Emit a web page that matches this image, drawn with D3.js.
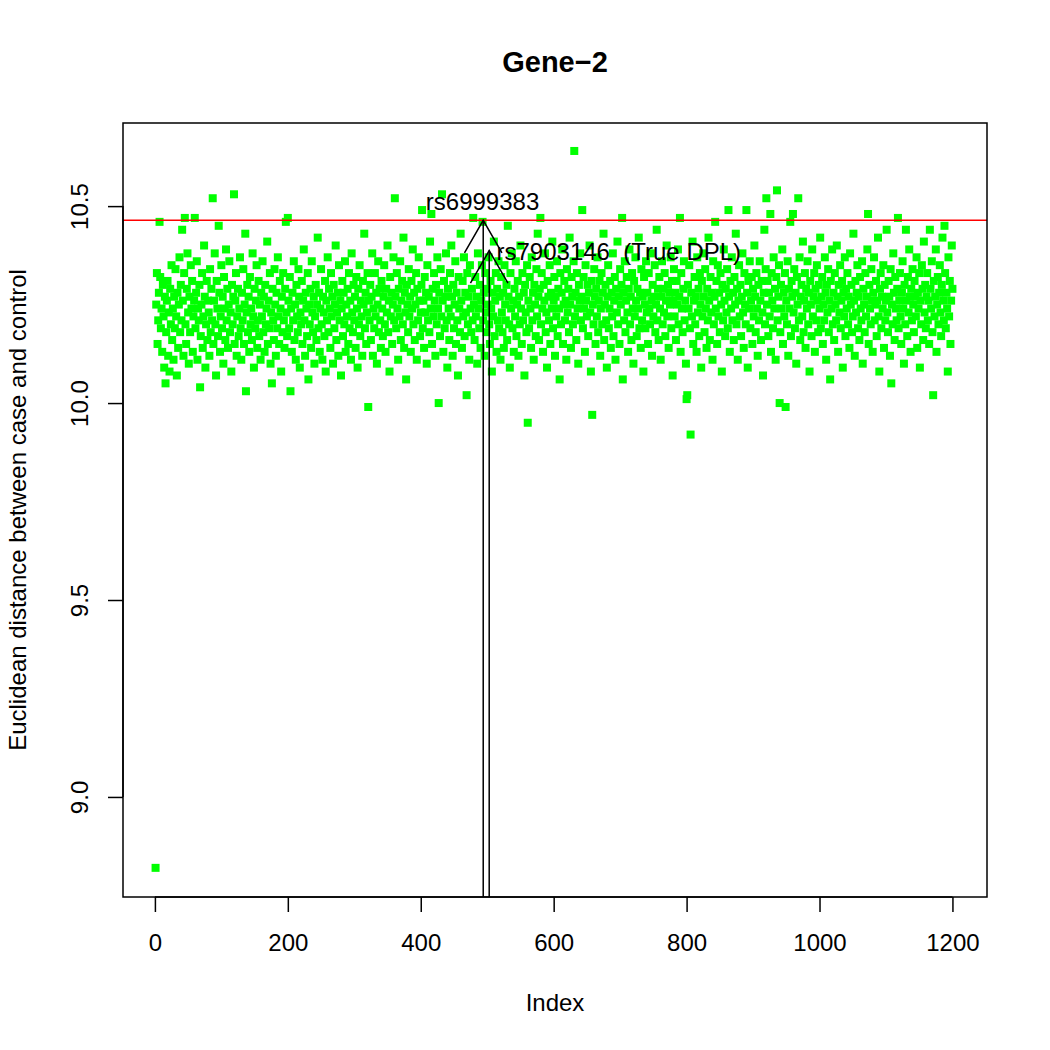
<!DOCTYPE html>
<html>
<head>
<meta charset="utf-8">
<script src="https://cdn.jsdelivr.net/npm/d3@7"></script>
<style>
  body { margin: 0; background: #fff; }
  svg { font-family: 'Liberation Sans', Arial, Helvetica, sans-serif; }
</style>
</head>
<body>
<div id="chart"></div>
<script>
// Euclidean distance per SNP index (1..1200)
const distance = [
  8.82, 10.25, 10.33, 10.15, 10.21, 10.28, 10.46, 10.32, 10.19, 10.24, 10.13, 10.30, 10.22, 10.09, 10.27, 10.05, 10.18, 10.26, 10.31, 10.12,
  10.23, 10.08, 10.29, 10.20, 10.35, 10.16, 10.24, 10.11, 10.27, 10.19, 10.34, 10.22, 10.07, 10.28, 10.14, 10.25, 10.37, 10.18, 10.30, 10.21,
  10.44, 10.26, 10.12, 10.33, 10.47, 10.20, 10.15, 10.29, 10.38, 10.23, 10.10, 10.27, 10.18, 10.35, 10.24, 10.31, 10.13, 10.22, 10.26, 10.47,
  10.19, 10.28, 10.36, 10.11, 10.24, 10.21, 10.30, 10.04, 10.17, 10.25, 10.33, 10.14, 10.22, 10.40, 10.27, 10.09, 10.20, 10.31, 10.16, 10.26,
  10.23, 10.12, 10.34, 10.18, 10.29, 10.21, 10.52, 10.15, 10.26, 10.38, 10.20, 10.07, 10.31, 10.24, 10.17, 10.45, 10.28, 10.13, 10.22, 10.35,
  10.19, 10.27, 10.10, 10.32, 10.24, 10.16, 10.39, 10.21, 10.29, 10.14, 10.25, 10.36, 10.18, 10.23, 10.08, 10.30, 10.20, 10.27, 10.53, 10.15,
  10.26, 10.33, 10.12, 10.22, 10.29, 10.17, 10.24, 10.37, 10.19, 10.11, 10.28, 10.21, 10.34, 10.15, 10.25, 10.43, 10.03, 10.23, 10.30, 10.18,
  10.27, 10.13, 10.32, 10.20, 10.24, 10.16, 10.38, 10.22, 10.09, 10.29, 10.19, 10.26, 10.35, 10.14, 10.21, 10.31, 10.17, 10.25, 10.11, 10.28,
  10.22, 10.36, 10.18, 10.27, 10.13, 10.30, 10.20, 10.24, 10.41, 10.15, 10.26, 10.19, 10.33, 10.10, 10.23, 10.05, 10.29, 10.21, 10.16, 10.34,
  10.25, 10.12, 10.28, 10.19, 10.37, 10.22, 10.15, 10.31, 10.24, 10.08, 10.27, 10.18, 10.33, 10.21, 10.14, 10.29, 10.46, 10.23, 10.17, 10.47,
  10.26, 10.19, 10.32, 10.03, 10.24, 10.13, 10.28, 10.21, 10.36, 10.16, 10.25, 10.11, 10.30, 10.22, 10.18, 10.34, 10.27, 10.09, 10.23, 10.20,
  10.31, 10.15, 10.26, 10.39, 10.21, 10.12, 10.28, 10.24, 10.17, 10.33, 10.06, 10.25, 10.20, 10.29, 10.14, 10.36, 10.23, 10.18, 10.27, 10.10,
  10.22, 10.30, 10.16, 10.25, 10.42, 10.19, 10.28, 10.13, 10.24, 10.34, 10.20, 10.11, 10.27, 10.23, 10.17, 10.31, 10.08, 10.26, 10.21, 10.37,
  10.18, 10.29, 10.24, 10.14, 10.33, 10.22, 10.27, 10.10, 10.30, 10.19, 10.25, 10.40, 10.16, 10.23, 10.28, 10.12, 10.35, 10.21, 10.26, 10.07,
  10.24, 10.31, 10.17, 10.28, 10.20, 10.36, 10.13, 10.25, 10.22, 10.29, 10.15, 10.33, 10.19, 10.26, 10.11, 10.38, 10.23, 10.18, 10.30, 10.21,
  10.27, 10.14, 10.32, 10.24, 10.09, 10.29, 10.20, 10.35, 10.17, 10.26, 10.22, 10.12, 10.31, 10.25, 10.43, 10.19, 10.28, 10.15, 10.23, 10.33,
  9.99, 10.26, 10.21, 10.30, 10.16, 10.27, 10.38, 10.12, 10.24, 10.19, 10.33, 10.22, 10.28, 10.10, 10.25, 10.36, 10.18, 10.29, 10.21, 10.14,
  10.31, 10.24, 10.17, 10.27, 10.35, 10.20, 10.13, 10.29, 10.23, 10.40, 10.18, 10.26, 10.08, 10.32, 10.22, 10.28, 10.15, 10.25, 10.37, 10.21,
  10.52, 10.27, 10.19, 10.33, 10.24, 10.11, 10.29, 10.22, 10.36, 10.16, 10.26, 10.31, 10.20, 10.42, 10.14, 10.28, 10.23, 10.06, 10.30, 10.25,
  10.18, 10.34, 10.22, 10.27, 10.13, 10.31, 10.24, 10.39, 10.20, 10.28, 10.16, 10.25, 10.33, 10.11, 10.29, 10.21, 10.37, 10.26, 10.17, 10.23,
  10.30, 10.49, 10.19, 10.26, 10.14, 10.32, 10.23, 10.28, 10.10, 10.35, 10.21, 10.27, 10.18, 10.41, 10.24, 10.48, 10.15, 10.29, 10.22, 10.33,
  10.26, 10.12, 10.30, 10.20, 10.37, 10.24, 10.00, 10.28, 10.17, 10.34, 10.22, 10.53, 10.26, 10.13, 10.31, 10.19, 10.27, 10.38, 10.21, 10.09,
  10.29, 10.24, 10.16, 10.33, 10.22, 10.40, 10.27, 10.12, 10.30, 10.19, 10.25, 10.36, 10.15, 10.28, 10.21, 10.07, 10.32, 10.24, 10.18, 10.43,
  10.26, 10.14, 10.31, 10.22, 10.37, 10.17, 10.28, 10.23, 10.02, 10.33, 10.20, 10.27, 10.11, 10.35, 10.24, 10.18, 10.29, 10.21, 10.47, 10.25,
  10.16, 10.32, 10.22, 10.27, 10.10, 10.38, 10.24, 10.19, 10.30, 10.14, 10.26, 10.35, 10.46, 10.21, 10.28, 10.12, 10.33, 10.23, 10.18, 10.29,
  10.25, 10.37, 10.20, 10.15, 10.31, 10.24, 10.08, 10.28, 10.22, 10.41, 10.17, 10.26, 10.33, 10.13, 10.29, 10.21, 10.36, 10.19, 10.27, 10.11,
  10.32, 10.23, 10.18, 10.28, 10.14, 10.35, 10.25, 10.21, 10.30, 10.16, 10.45, 10.27, 10.20, 10.09, 10.33, 10.24, 10.38, 10.19, 10.26, 10.13,
  10.29, 10.22, 10.36, 10.17, 10.25, 10.31, 10.12, 10.27, 10.20, 10.40, 10.24, 10.15, 10.33, 10.21, 10.28, 10.07, 10.30, 10.23, 10.18, 10.35,
  9.95, 10.26, 10.19, 10.32, 10.24, 10.14, 10.37, 10.21, 10.28, 10.11, 10.30, 10.25, 10.17, 10.34, 10.22, 10.43, 10.27, 10.16, 10.29, 10.47,
  10.20, 10.33, 10.24, 10.13, 10.30, 10.26, 10.38, 10.18, 10.23, 10.09, 10.31, 10.27, 10.21, 10.35, 10.15, 10.28, 10.24, 10.41, 10.19, 10.26,
  10.32, 10.12, 10.27, 10.22, 10.36, 10.17, 10.29, 10.24, 10.06, 10.33, 10.20, 10.28, 10.39, 10.15, 10.25, 10.31, 10.21, 10.26, 10.11, 10.34,
  10.23, 10.29, 10.18, 10.42, 10.25, 10.14, 10.32, 10.27, 10.20, 10.36, 10.64, 10.22, 10.28, 10.16, 10.33, 10.24, 10.10, 10.30, 10.26, 10.38,
  10.21, 10.27, 10.49, 10.19, 10.32, 10.24, 10.13, 10.35, 10.26, 10.22, 10.30, 10.17, 10.28, 10.40, 10.23, 10.08, 10.31, 9.97, 10.25, 10.20,
  10.34, 10.27, 10.15, 10.29, 10.22, 10.37, 10.18, 10.26, 10.31, 10.12, 10.24, 10.33, 10.20, 10.28, 10.43, 10.16, 10.25, 10.30, 10.21, 10.09,
  10.27, 10.35, 10.19, 10.24, 10.31, 10.14, 10.28, 10.22, 10.38, 10.17, 10.26, 10.32, 10.11, 10.29, 10.23, 10.41, 10.20, 10.27, 10.15, 10.34,
  10.25, 10.30, 10.47, 10.06, 10.28, 10.21, 10.36, 10.18, 10.26, 10.32, 10.23, 10.13, 10.29, 10.39, 10.20, 10.27, 10.16, 10.33, 10.24, 10.10,
  10.31, 10.22, 10.37, 10.26, 10.17, 10.29, 10.24, 10.42, 10.19, 10.28, 10.14, 10.34, 10.21, 10.27, 10.08, 10.32, 10.25, 10.19, 10.36, 10.23,
  10.28, 10.15, 10.33, 10.24, 10.20, 10.38, 10.26, 10.12, 10.30, 10.22, 10.27, 10.35, 10.18, 10.25, 10.44, 10.21, 10.29, 10.16, 10.32, 10.24,
  10.11, 10.27, 10.36, 10.20, 10.29, 10.23, 10.33, 10.17, 10.26, 10.40, 10.22, 10.30, 10.14, 10.28, 10.25, 10.37, 10.19, 10.31, 10.07, 10.26,
  10.34, 10.22, 10.28, 10.16, 10.31, 10.25, 10.39, 10.20, 10.27, 10.47, 10.13, 10.33, 10.24, 10.18, 10.29, 10.36, 10.21, 10.26, 10.10, 10.01,
  10.02, 10.30, 10.24, 10.35, 10.19, 9.92, 10.28, 10.22, 10.41, 10.15, 10.26, 10.32, 10.20, 10.27, 10.13, 10.37, 10.23, 10.29, 10.17, 10.33,
  10.25, 10.09, 10.31, 10.22, 10.38, 10.27, 10.18, 10.34, 10.24, 10.14, 10.29, 10.21, 10.42, 10.26, 10.16, 10.32, 10.23, 10.28, 10.11, 10.36,
  10.20, 10.27, 10.46, 10.24, 10.31, 10.15, 10.35, 10.22, 10.28, 10.18, 10.33, 10.25, 10.08, 10.30, 10.21, 10.39, 10.26, 10.17, 10.29, 10.23,
  10.34, 10.19, 10.49, 10.27, 10.13, 10.31, 10.24, 10.37, 10.21, 10.28, 10.16, 10.32, 10.25, 10.43, 10.20, 10.29, 10.11, 10.26, 10.35, 10.22,
  10.30, 10.17, 10.27, 10.38, 10.23, 10.14, 10.33, 10.25, 10.20, 10.49, 10.28, 10.09, 10.31, 10.24, 10.36, 10.19, 10.26, 10.32, 10.15, 10.29,
  10.22, 10.40, 10.27, 10.18, 10.33, 10.24, 10.12, 10.30, 10.21, 10.36, 10.26, 10.16, 10.31, 10.23, 10.07, 10.28, 10.44, 10.20, 10.34, 10.52,
  10.25, 10.31, 10.17, 10.28, 10.22, 10.48, 10.13, 10.33, 10.26, 10.19, 10.37, 10.24, 10.29, 10.11, 10.32, 10.54, 10.21, 10.27, 10.35, 10.00,
  10.18, 10.30, 10.24, 10.39, 10.15, 10.28, 10.22, 10.33, 9.99, 10.26, 10.20, 10.36, 10.12, 10.29, 10.24, 10.46, 10.17, 10.31, 10.27, 10.48,
  10.23, 10.34, 10.19, 10.28, 10.10, 10.32, 10.25, 10.52, 10.21, 10.37, 10.16, 10.27, 10.30, 10.22, 10.41, 10.18, 10.26, 10.33, 10.14, 10.29,
  10.24, 10.36, 10.20, 10.28, 10.08, 10.31, 10.25, 10.17, 10.39, 10.22, 10.27, 10.33, 10.13, 10.29, 10.21, 10.35, 10.26, 10.18, 10.30, 10.24,
  10.42, 10.19, 10.27, 10.32, 10.15, 10.25, 10.21, 10.37, 10.28, 10.11, 10.30, 10.23, 10.34, 10.18, 10.26, 10.06, 10.31, 10.24, 10.39, 10.20,
  10.28, 10.16, 10.33, 10.25, 10.21, 10.40, 10.27, 10.13, 10.30, 10.23, 10.35, 10.19, 10.26, 10.31, 10.09, 10.28, 10.22, 10.37, 10.17, 10.29,
  10.24, 10.33, 10.20, 10.27, 10.14, 10.38, 10.25, 10.30, 10.18, 10.22, 10.43, 10.26, 10.12, 10.31, 10.23, 10.28, 10.35, 10.19, 10.27, 10.16,
  10.32, 10.24, 10.21, 10.36, 10.10, 10.29, 10.25, 10.18, 10.33, 10.22, 10.27, 10.39, 10.48, 10.15, 10.30, 10.24, 10.20, 10.34, 10.26, 10.13,
  10.28, 10.37, 10.21, 10.25, 10.31, 10.17, 10.26, 10.42, 10.22, 10.08, 10.29, 10.33, 10.19, 10.27, 10.24, 10.35, 10.14, 10.30, 10.21, 10.26,
  10.44, 10.23, 10.18, 10.31, 10.27, 10.12, 10.34, 10.05, 10.25, 10.20, 10.38, 10.28, 10.16, 10.32, 10.24, 10.21, 10.29, 10.47, 10.19, 10.26,
  10.33, 10.22, 10.15, 10.28, 10.36, 10.24, 10.10, 10.30, 10.20, 10.44, 10.26, 10.17, 10.32, 10.23, 10.39, 10.27, 10.13, 10.29, 10.21, 10.34,
  10.25, 10.18, 10.31, 10.27, 10.22, 10.37, 10.14, 10.28, 10.24, 10.33, 10.09, 10.26, 10.20, 10.35, 10.29, 10.16, 10.41, 10.23, 10.30, 10.19,
  10.27, 10.33, 10.21, 10.26, 10.15, 10.44, 10.29, 10.24, 10.36, 10.18, 10.02, 10.31, 10.22, 10.27, 10.39, 10.13, 10.25, 10.32, 10.20, 10.28,
  10.35, 10.23, 10.17, 10.30, 10.42, 10.26, 10.21, 10.45, 10.33, 10.19, 10.28, 10.24, 10.08, 10.37, 10.22, 10.31, 10.15, 10.26, 10.40, 10.29
]

const xTicks = [0, 200, 400, 600, 800, 1000, 1200]
const yTicks = [9.0, 9.5, 10.0, 10.5]
const threshold = 10.464

// marked SNPs: index where the arrow sits, value at the arrow tip, label
const markers = [
  { name: 'rs6999383', index: 494, tip: 10.464, labelX: 493, labelY: 10.49, anchor: 'middle' },
  { name: 'rs7903146  (True DPL)', index: 503, tip: 10.387, labelX: 514, labelY: 10.363, anchor: 'start' }
]

/* ----------  SVG & FRAME  ---------- */
const W = 1050
const H = 1050
const plot = { left: 123, right: 987, top: 123, bottom: 897 }

const svg = d3.select('#chart').append('svg')
  .attr('width', W)
  .attr('height', H)

const x = d3.scaleLinear()
  .domain([-48, 1252])
  .range([plot.left, plot.right])

const y = d3.scaleLinear()
  .domain([8.746, 10.711])
  .range([plot.bottom, plot.top])

svg.append('defs').append('clipPath')
  .attr('id', 'plotClip')
  .append('rect')
  .attr('x', plot.left)
  .attr('y', plot.top)
  .attr('width', plot.right - plot.left)
  .attr('height', plot.bottom - plot.top)

const canvas = svg.append('g').attr('clip-path', 'url(#plotClip)')

/* ----------  POINTS  ---------- */
const SQ = 8 // pch 15 square
canvas.selectAll('rect.pt')
  .data(distance)
  .enter().append('rect')
  .attr('class', 'pt')
  .attr('x', (d, i) => x(i + 1) - SQ / 2)
  .attr('y', d => y(d) - SQ / 2)
  .attr('width', SQ)
  .attr('height', SQ)
  .attr('fill', '#00ff00')

// threshold line
canvas.append('line')
  .attr('x1', plot.left)
  .attr('x2', plot.right)
  .attr('y1', y(threshold))
  .attr('y2', y(threshold))
  .attr('stroke', '#ff0000')
  .attr('stroke-width', 1.5)

/* ----------  ARROWS  ---------- */
const HEAD = 37.5
const ang = Math.PI / 6
markers.forEach(m => {
  const tx = x(m.index)
  const ty = y(m.tip)
  canvas.append('line')
    .attr('x1', tx).attr('y1', plot.bottom + 5)
    .attr('x2', tx).attr('y2', ty)
    .attr('stroke', '#000').attr('stroke-width', 1.5)
  canvas.append('path')
    .attr('d', `M${tx - HEAD * Math.sin(ang)},${ty + HEAD * Math.cos(ang)} L${tx},${ty} L${tx + HEAD * Math.sin(ang)},${ty + HEAD * Math.cos(ang)}`)
    .attr('fill', 'none')
    .attr('stroke', '#000').attr('stroke-width', 1.5)
  svg.append('text')
    .attr('x', x(m.labelX))
    .attr('y', y(m.labelY))
    .attr('text-anchor', m.anchor)
    .style('font-size', '24px')
    .style('white-space', 'pre')
    .text(m.name)
})

/* ----------  AXES  ---------- */
svg.append('rect')
  .attr('x', plot.left)
  .attr('y', plot.top)
  .attr('width', plot.right - plot.left)
  .attr('height', plot.bottom - plot.top)
  .attr('fill', 'none')
  .attr('stroke', '#000')
  .attr('stroke-width', 1.5)

const xAxis = svg.append('g')
  .attr('transform', `translate(0, ${plot.bottom})`)
  .call(d3.axisBottom(x).tickValues(xTicks).tickSize(15).tickPadding(24).tickFormat(d3.format('d')))
xAxis.select('.domain')
  .attr('d', `M${x(0)},0H${x(1200)}`)
  .attr('stroke-width', 1.5)
xAxis.selectAll('.tick line').attr('stroke-width', 1.5)
xAxis.selectAll('text')
  .style('font-size', '24px')
  .style('font-family', "'Liberation Sans', Arial, sans-serif")
  .attr('fill', '#000')
  .attr('dy', null)
  .attr('y', 54)

const yAxis = svg.append('g')
  .attr('transform', `translate(${plot.left}, 0)`)
  .call(d3.axisLeft(y).tickValues(yTicks).tickSize(15).tickFormat(d3.format('.1f')))
yAxis.select('.domain')
  .attr('d', `M0,${y(9.0)}V${y(10.5)}`)
  .attr('stroke-width', 1.5)
yAxis.selectAll('.tick line').attr('stroke-width', 1.5)
yAxis.selectAll('text')
  .style('font-size', '24px')
  .style('font-family', "'Liberation Sans', Arial, sans-serif")
  .attr('fill', '#000')
  .attr('x', null)
  .attr('dy', null)
  .attr('text-anchor', 'middle')
  .attr('transform', 'translate(-35, 0) rotate(-90)')

/* ----------  TITLES  ---------- */
svg.append('text')
  .attr('x', (plot.left + plot.right) / 2)
  .attr('y', 72)
  .attr('text-anchor', 'middle')
  .style('font-size', '29px')
  .style('font-weight', 'bold')
  .text('Gene\u22122')

svg.append('text')
  .attr('x', (plot.left + plot.right) / 2)
  .attr('y', 1011)
  .attr('text-anchor', 'middle')
  .style('font-size', '24px')
  .text('Index')

svg.append('text')
  .attr('transform', `translate(26, ${(plot.top + plot.bottom) / 2}) rotate(-90)`)
  .attr('text-anchor', 'middle')
  .style('font-size', '24px')
  .text('Euclidean distance between case and control')
</script>
</body>
</html>
